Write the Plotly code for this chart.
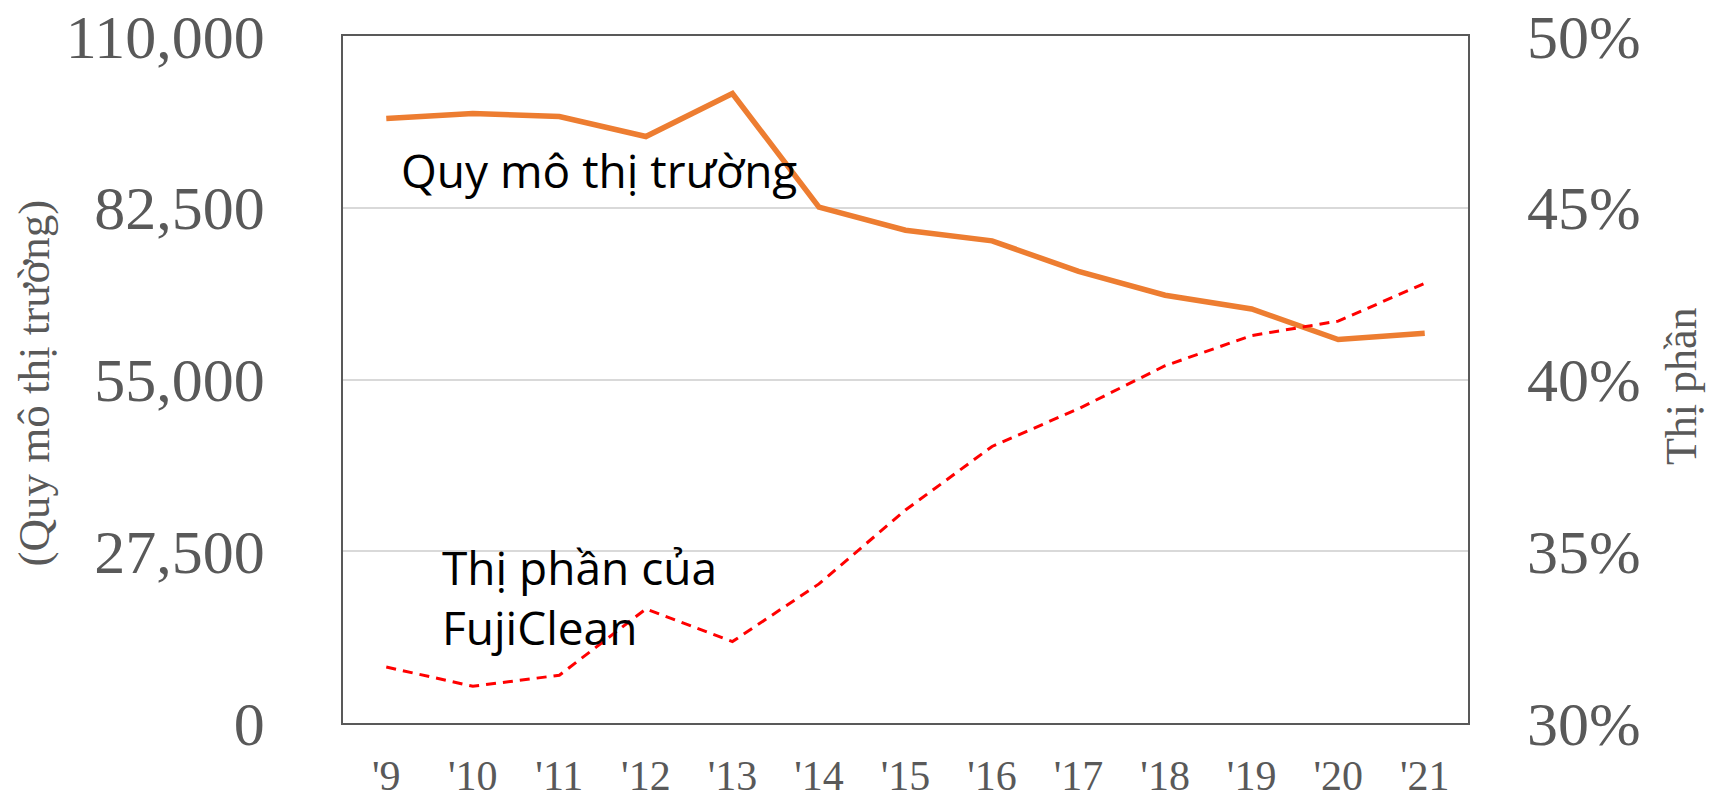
import plotly.graph_objects as go

years = ["'9", "'10", "'11", "'12", "'13", "'14", "'15", "'16", "'17", "'18", "'19", "'20", "'21"]
market_size = [96800, 97600, 97100, 93900, 100800, 82600, 78900, 77200, 72300, 68500, 66300, 61400, 62400]
fujiclean_share = [0.3163, 0.3107, 0.3139, 0.3332, 0.3237, 0.3405, 0.3620, 0.3805, 0.3915, 0.4040, 0.4128, 0.4170, 0.4280]

left_ticks = [0, 27500, 55000, 82500, 110000]
right_ticks = [0.30, 0.35, 0.40, 0.45, 0.50]

GREY = "#595959"
SERIF = "Liberation Serif, Times New Roman, serif"
SANS = "Open Sans, sans-serif"

fig = go.Figure()
fig.add_trace(go.Scatter(
    x=years, y=market_size, mode="lines", name="Quy mô thị trường",
    line=dict(color="#ED7D31", width=5.5), yaxis="y"))
fig.add_trace(go.Scatter(
    x=years, y=fujiclean_share, mode="lines", name="Thị phần của FujiClean",
    line=dict(color="#FF0000", width=3, dash="10px,7px"), yaxis="y2"))

fig.update_layout(
    width=1718, height=800,
    margin=dict(l=343, r=250, t=36, b=77),
    paper_bgcolor="white", plot_bgcolor="white",
    showlegend=False,
    xaxis=dict(
        type="category", range=[-0.5, 12.5], automargin=False,
        showline=True, linecolor=GREY, linewidth=1.5, mirror=True,
        showgrid=False, ticks="",
        tickfont=dict(family=SERIF, size=42, color=GREY),
        ticklabelstandoff=15, ticklabeloverflow="allow"),
    yaxis=dict(
        range=[0, 110000], tickvals=left_ticks, tickformat=",", automargin=False,
        showline=True, linecolor=GREY, linewidth=1.5, mirror=True,
        showgrid=True, gridcolor="#D9D9D9", gridwidth=2, zeroline=False,
        ticks="", tickfont=dict(family=SERIF, size=62, color=GREY),
        ticklabelstandoff=64, ticklabeloverflow="allow"),
    yaxis2=dict(
        range=[0.30, 0.50], tickvals=right_ticks, tickformat=".0%", automargin=False,
        overlaying="y", side="right", showgrid=False, zeroline=False,
        showline=False, ticks="",
        tickfont=dict(family=SERIF, size=62, color=GREY),
        ticklabelstandoff=58, ticklabeloverflow="allow"),
    annotations=[
        dict(text="Quy mô thị trường", xref="paper", yref="paper",
             x=0.050, y=0.805, xanchor="left", yanchor="middle", showarrow=False,
             font=dict(family=SANS, size=46, color="black")),
        dict(text="Thị phần của<br>FujiClean", xref="paper", yref="paper",
             x=0.086, y=0.183, xanchor="left", yanchor="middle", showarrow=False,
             align="left", font=dict(family=SANS, size=46, color="black")),
        dict(text="(Quy mô thị trường)", xref="paper", yref="paper",
             x=-0.275, y=0.495, xanchor="center", yanchor="middle", showarrow=False,
             textangle=-90, font=dict(family=SERIF, size=45, color=GREY)),
        dict(text="Thị phần", xref="paper", yref="paper",
             x=1.19, y=0.49, xanchor="center", yanchor="middle", showarrow=False,
             textangle=-90, font=dict(family=SERIF, size=44, color=GREY)),
    ],
)

fig.write_html("out.html", config={"displayModeBar": False},
               post_script="document.body.style.margin='0';")
